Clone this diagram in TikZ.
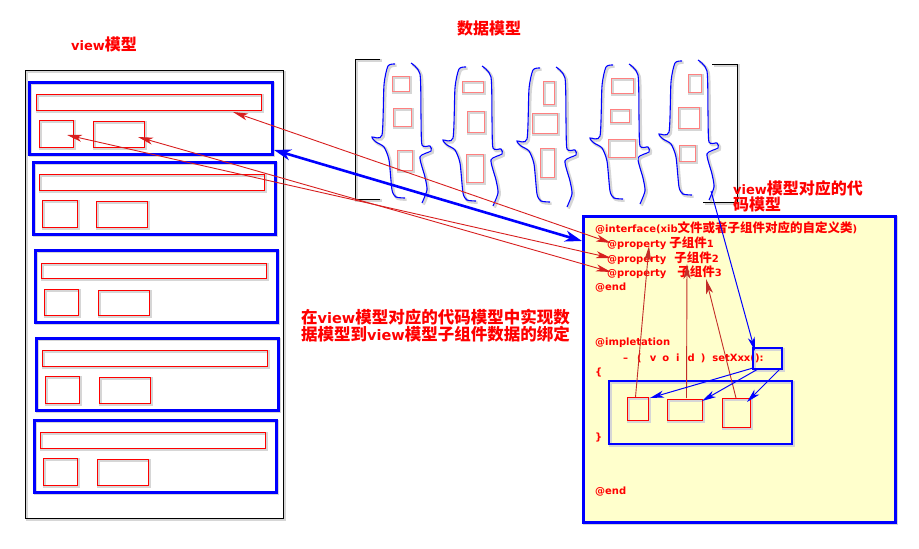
\documentclass[tikz,border=0pt]{standalone}
\usepackage{fontspec}
\newfontfamily\lat{DejaVu Sans}
\newfontfamily\cjk{Noto Sans CJK SC}
\usetikzlibrary{arrows.meta,calc}
\definecolor{myred}{RGB}{255,0,0}
\definecolor{pinkbox}{RGB}{255,128,128}
\definecolor{codeyel}{RGB}{255,255,204}
\definecolor{arrred}{RGB}{215,30,30}
\definecolor{darkred}{RGB}{195,45,40}
\newcommand\txL[2]{{\lat\bfseries\fontsize{#1}{1.15\dimexpr#1pt\relax}\selectfont #2}}
\newcommand\txC[2]{{\cjk\bfseries\fontsize{#1}{1.15\dimexpr#1pt\relax}\selectfont #2}}
\newcommand\rb[6]{\node[#1,anchor=north west,minimum width={#5-#3},minimum height={#6-#4}] (#2) at (#3,#4) {};}
\tikzset{
  sh/.style={preaction={draw=black!16,line width=2.6pt,transform canvas={shift={(1.6pt,-1.6pt)}}}},
  bbox/.style={draw=blue,line width=3pt,inner sep=0pt,outer sep=0pt,sh},
  rbox/.style={draw=red,line width=1pt,inner sep=0pt,outer sep=0pt,sh},
  pbox/.style={draw=pinkbox,line width=1pt,inner sep=0pt,outer sep=0pt,sh},
  tbox/.style={draw=blue,line width=1.1pt,inner sep=0pt,outer sep=0pt,sh},
  brc/.style={draw=blue,line width=1.1pt,sh},
  txt/.style={inner sep=0pt,anchor=west,text=myred},
  rarr/.style={draw=arrred,line width=0.9pt,arrows={Stealth[length=15pt,width=7pt,inset=4pt]-Stealth[length=15pt,width=7pt,inset=4pt]}},
  uarr/.style={draw=darkred,line width=0.9pt,arrows={-Stealth[length=15pt,width=7pt,inset=4pt]}},
  barr/.style={draw=blue,line width=1pt,arrows={-Stealth[length=14pt,width=7pt,inset=4pt]}},
  bigarr/.style={draw=blue,line width=2.6pt,arrows={Stealth[length=17pt,width=11pt,inset=5pt]-Stealth[length=17pt,width=11pt,inset=5pt]}}
}
\newcommand\dbrace[2]{%
\begin{scope}[shift={(#1,#2)}]
\draw[brc] plot[smooth,tension=0.4] coordinates {(395,64) (388,66) (384,85) (382,135) (372,137) (376,142) (384,147) (389,160) (392,190) (396,197) (405,198)};
\draw[brc] plot[smooth,tension=0.4] coordinates {(411,63) (420,74) (421,117) (422,145) (430,146) (431,151) (420,157) (425,177) (427,190) (422,203)};
\end{scope}}
\begin{document}
\begin{tikzpicture}[x=1pt,y=-1pt]
\useasboundingbox (0,0) rectangle (919,549);
% view model
\rb{draw=black,line width=1pt,inner sep=0pt,sh}{outer}{25}{70}{283}{518}
\rb{bbox}{vb1}{29}{82}{272}{154}
\rb{rbox}{bar1}{36}{94}{261}{110}
\rb{rbox}{sa1}{39}{120}{73}{147}
\rb{rbox}{wa1}{93}{121}{144}{147}
\rb{bbox}{vb2}{33}{162}{275}{234}
\rb{rbox}{bar2}{39}{174}{264}{190}
\rb{rbox}{sa2}{42}{200}{77}{227}
\rb{rbox}{wa2}{96}{201}{147}{227}
\rb{bbox}{vb3}{35}{250}{277}{322}
\rb{rbox}{bar3}{41}{263}{266}{278}
\rb{rbox}{sa3}{44}{289}{78}{315}
\rb{rbox}{wa3}{98}{290}{149}{315}
\rb{bbox}{vb4}{36}{338}{278}{410}
\rb{rbox}{bar4}{42}{350}{267}{366}
\rb{rbox}{sa4}{45}{376}{79}{403}
\rb{rbox}{wa4}{99}{377}{150}{403}
\rb{bbox}{vb5}{34}{420}{276}{492}
\rb{rbox}{bar5}{40}{432}{265}{448}
\rb{rbox}{sa5}{43}{458}{77}{485}
\rb{rbox}{wa5}{97}{459}{148}{485}
% data model brackets
\draw[black,line width=1pt,sh] (380,59) -- (355,59) -- (355,199) -- (380,199);
\draw[black,line width=1pt,sh] (712,64) -- (737,64) -- (737,202) -- (703,202);
\dbrace{0}{0}
\dbrace{71}{3}
\dbrace{145}{4}
\dbrace{218}{1}
\dbrace{287}{-3}
\coordinate (bend) at (711,191);
\rb{pbox}{d11}{392}{76}{409}{91}
\rb{pbox}{d12}{393}{108}{411}{126}
\rb{pbox}{d13}{397}{150}{412}{170}
\rb{pbox}{d21}{462}{81}{483}{92}
\rb{pbox}{d22}{467}{111}{484}{132}
\rb{pbox}{d23}{466}{154}{483}{182}
\rb{pbox}{d31}{543}{81}{554}{104}
\rb{pbox}{d32}{532}{113}{557}{133}
\rb{pbox}{d33}{540}{148}{554}{177}
\rb{pbox}{d41}{611}{78}{633}{93}
\rb{pbox}{d42}{610}{109}{629}{122}
\rb{pbox}{d43}{608}{139}{635}{157}
\rb{pbox}{d51}{688}{74}{701}{92}
\rb{pbox}{d52}{678}{107}{699}{128}
\rb{pbox}{d53}{679}{145}{695}{161}
% titles
\node[txt] (t1) at (71,44) {\txL{13}{view}\txC{16}{模型}};
\node[txt] (t2) at (457,28) {\txC{16}{数据模型}};
\node[txt,anchor=north west,align=left] (t3) at (733,180) {\txL{13}{view}\txC{16}{模型对应的代}\\\txC{16}{码模型}};
\node[txt,anchor=north west,align=left] (t4) at (301,309) {\txC{16.5}{在}\txL{14.5}{view}\txC{16.5}{模型对应的代码模型中实现数}\\\txC{16.5}{据模型到}\txL{14.5}{view}\txC{16.5}{模型子组件数据的绑定}};
% code box
\rb{bbox,fill=codeyel}{code}{583}{216}{895}{522}
\node[txt] (c1) at (595,228) {\txL{10}{@interface(xib}\txC{12.5}{文件或者子组件对应的自定义类}\txL{10}{)}};
\node[txt] (p1) at (607,243) {\txL{10}{@property}\hspace{3pt}\txC{12.5}{子组件}\txL{10}{1}};
\node[txt] (p2) at (607,258) {\txL{10}{@property}\hspace{8pt}\txC{12.5}{子组件}\txL{10}{2}};
\node[txt] (p3) at (607,272) {\txL{10}{@property}\hspace{11pt}\txC{12.5}{子组件}\txL{10}{3}};
\node[txt] (c2) at (595,288) {\txL{10}{@end}};
\node[txt] (c3) at (595,343) {\txL{10}{@impletation}};
\node[txt] (c4) at (623,358) {\txL{10}{–\hspace{9pt}(\hspace{8pt}v\hspace{6pt}o\hspace{7pt}i\hspace{8pt}d\hspace{6pt})\hspace{7pt}setXxx():}};
\node[txt] (c5) at (595,373) {\txL{10}{\{}};
\node[txt] (c6) at (595,438) {\txL{10}{\}}};
\node[txt] (c7) at (595,492) {\txL{10}{@end}};
\rb{tbox}{inner}{609}{381}{792}{444}
\rb{tbox}{sbox}{753}{348}{782}{369}
\rb{rbox}{rA}{627}{397}{648}{420}
\rb{rbox}{rB}{667}{399}{702}{420}
\rb{rbox}{rC}{722}{398}{750}{427}
% connectors
\draw[bigarr] ($(vb1.south east)+(2,-4)$) -- ($(code.north west)+(-1,25)$);
\draw[rarr] ($(bar1.south east)+(-28,2)$) -- ($(p1.west)+(4,0)$);
\draw[rarr] ($(sa1.north west)+(28,15)$) -- ($(p2.west)+(4,0)$);
\draw[rarr] ($(wa1.north east)+(-6,16)$) -- ($(p3.west)+(4,0)$);
\draw[uarr] ($(rA.north)+(-2,0)$) -- ($(p1.west)+(42,3)$);
\draw[uarr] ($(rB.north)+(2,-1)$) -- ($(p2.west)+(80,6)$);
\draw[uarr] ($(rC.north)+(0,0)$) -- ($(p3.west)+(99,7)$);
\draw[barr] (bend) -- ($(sbox.north west)+(2,3)$);
\draw[barr] ($(sbox.south west)+(0,-1)$) -- ($(rA.north east)+(2,1)$);
\draw[barr] ($(sbox.south west)+(5,0)$) -- ($(rB.north east)+(0,2)$);
\draw[barr] ($(sbox.south east)+(-2,0)$) -- ($(rC.north east)+(-3,4)$);
\end{tikzpicture}
\end{document}
